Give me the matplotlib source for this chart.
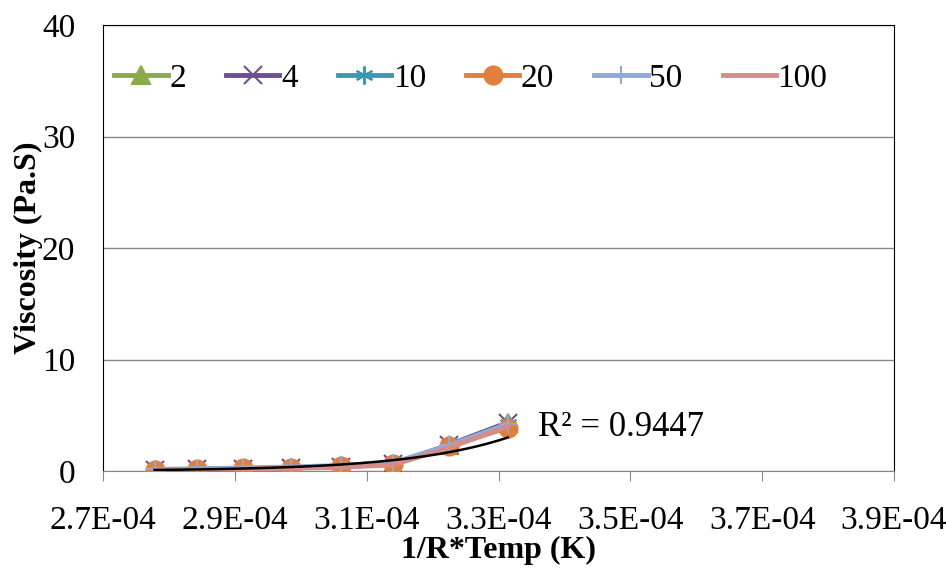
import numpy as np
import matplotlib
matplotlib.use("Agg")
import matplotlib.pyplot as plt

# 1/(R*T) values
inv_rt = [2.778e-4, 2.843e-4, 2.912e-4, 2.985e-4, 3.061e-4, 3.140e-4, 3.225e-4, 3.314e-4]

labels = ["2", "4", "10", "20", "50", "100"]
visc_2 = [0.10, 0.13, 0.20, 0.27, 0.38, 0.62, 2.30, 4.30]
visc_4 = [0.11, 0.14, 0.21, 0.28, 0.40, 0.64, 2.35, 4.35]
visc_10 = [0.11, 0.14, 0.22, 0.29, 0.41, 0.65, 2.30, 4.25]
visc_20 = [0.12, 0.15, 0.24, 0.30, 0.42, 0.66, 2.20, 3.90]
visc_50 = [0.15, 0.20, 0.28, 0.36, 0.50, 0.75, 2.30, 4.20]
visc_100 = [0.10, 0.12, 0.18, 0.25, 0.35, 0.55, 2.10, 4.00]
r2_label = "R² = 0.9447"

colors = ["#8aab4a", "#6f4e8f", "#3c99b2", "#e0803a", "#8faad8", "#d68c89"]
markers = ["^", "x", (6, 2, 0), "o", "+", None]

plt.rcParams['font.family'] = ['Liberation Serif', 'DejaVu Serif']

fig = plt.figure(figsize=(9.46, 5.73), dpi=100)
ax = fig.add_axes([0.109, 0.178, 0.836, 0.778])

series = [visc_2, visc_4, visc_10, visc_20, visc_50, visc_100]
for ys, lab, c, m in zip(series, labels, colors, markers):
    ax.plot(inv_rt, ys, color=c, lw=3.5, marker=m, markersize=13,
            markeredgewidth=1.5, label=lab, zorder=3)

# exponential trendline over the 20 series
x = np.array(inv_rt)
b, a = np.polyfit(x, np.log(visc_20), 1)
xx = np.linspace(x[0], x[-1], 100)
ax.plot(xx, np.exp(a) * np.exp(b * xx), color="black", lw=1.8, zorder=4)
ax.text(3.36e-4, 3.9, r2_label, fontsize=25, va="center")

ax.set_xlim(2.7e-4, 3.9e-4)
ax.set_ylim(0, 40)
ax.set_xticks(np.arange(2.7e-4, 3.91e-4, 0.2e-4))
ax.set_xticklabels(["2.7E-04", "2.9E-04", "3.1E-04", "3.3E-04", "3.5E-04", "3.7E-04", "3.9E-04"])
ax.set_yticks([0, 10, 20, 30, 40])
ax.tick_params(axis="both", labelsize=24)
ax.tick_params(axis="x", length=7, color="#888888", pad=18)
ax.tick_params(axis="y", length=0, pad=20)
ax.yaxis.grid(True, color="#888888", lw=1)
ax.set_axisbelow(True)
ax.spines['bottom'].set_color("#888888")
for s in ['top', 'right', 'left']:
    ax.spines[s].set_color("black")

ax.set_xlabel("1/R*Temp (K)", fontsize=23, fontweight="bold", labelpad=0)
ax.set_ylabel("Viscosity (Pa.S)", fontsize=23, fontweight="bold", va="center")
ax.yaxis.set_label_coords(-0.095, 0.5)

ax.legend(ncol=6, loc="upper center", bbox_to_anchor=(0.465, 0.945), frameon=False,
          fontsize=24, handlelength=1.6, handletextpad=0.05, columnspacing=1.2,
          borderaxespad=0)

fig.savefig("out.png", dpi=100)
